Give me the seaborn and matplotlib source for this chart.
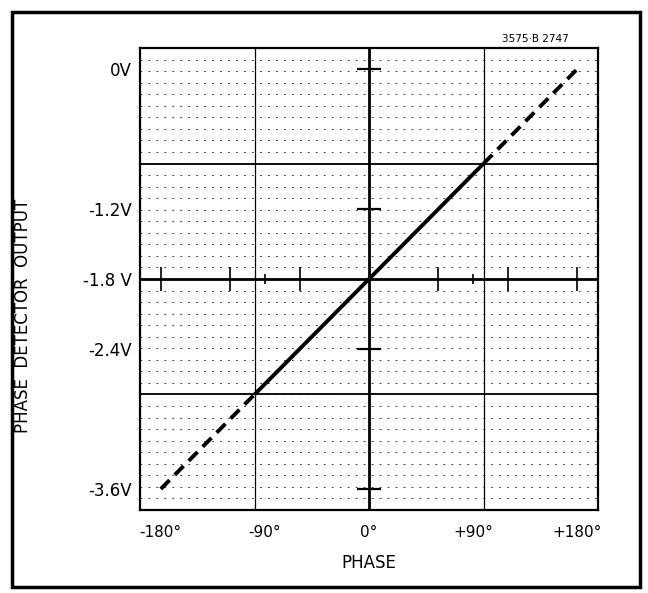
import numpy as np
import matplotlib
matplotlib.use('Agg')
import matplotlib.pyplot as plt
import seaborn as sns
from matplotlib.patches import Rectangle

# === DATOS ===
# puntos leidos de la recta (fase en grados, salida en voltios)
phase_deg = [-180, -99, 99, 180]
output_v = [-3.6, -2.79, -0.81, 0.0]
segment_style = ['dashed', 'solid', 'dashed']

x_ticks = [-180, -90, 0, 90, 180]
x_tick_labels = ['-180°', '-90°', '0°', '+90°', '+180°']
y_ticks = [0.0, -1.2, -1.8, -2.4, -3.6]
y_tick_labels = ['0V', '-1.2V', '-1.8 V', '-2.4V', '-3.6V']

# marcas sobre las lineas centrales
big_phase_marks = [-180, -120, -60, 60, 120, 180]
small_phase_marks = [-90, 90]
volt_marks = [0.0, -1.2, -2.4, -3.6]

# cuadricula del papel: 4 divisiones mayores, 10 menores cada una
x_lim = (-198, 198)
y_lim = (-3.78, 0.18)

sns.set_theme(style='white')
plt.rcParams['font.family'] = ['DejaVu Sans']
plt.rcParams['text.color'] = 'black'
plt.rcParams['axes.labelcolor'] = 'black'
plt.rcParams['xtick.color'] = 'black'
plt.rcParams['ytick.color'] = 'black'

fig = plt.figure(figsize=(6.48, 5.93), dpi=100)
ax = fig.add_axes([0.216, 0.140, 0.707, 0.779])
ax.set_xlim(x_lim)
ax.set_ylim(y_lim)

# lineas menores punteadas (horizontales)
y_minor = np.linspace(y_lim[0], y_lim[1], 41)
for yv in y_minor:
    ax.axhline(yv, color='#333333', lw=0.7, ls=(0, (1.8, 6.4)), zorder=1)

# lineas mayores
x_major = np.linspace(x_lim[0], x_lim[1], 5)[1:-1]
y_major = np.linspace(y_lim[0], y_lim[1], 5)[1:-1]
for i, xv in enumerate(x_major):
    ax.axvline(xv, color='black', lw=2.0 if i == 1 else 0.9, zorder=2)
for i, yv in enumerate(y_major):
    ax.axhline(yv, color='black', lw=2.0 if i == 1 else 1.3, zorder=2)

# marcas cortas sobre la linea de -1.8 V y sobre la de 0 grados
mid_v = y_major[1]
ax.vlines(big_phase_marks, mid_v - 0.1, mid_v + 0.1, color='black', lw=1.2, zorder=3)
ax.vlines(small_phase_marks, mid_v - 0.04, mid_v + 0.04, color='black', lw=1.2, zorder=3)
ax.hlines(volt_marks, -10, 10, color='black', lw=1.6, zorder=3)

# recta de salida del detector
for i, style in enumerate(segment_style):
    seg_x = phase_deg[i:i + 2]
    seg_y = output_v[i:i + 2]
    sns.lineplot(x=seg_x, y=seg_y, ax=ax, color='black', lw=2.8, zorder=4)
    line = ax.lines[-1]
    if style == 'dashed':
        line.set_linestyle((0, (3.2, 1.9)))
    line.set_solid_capstyle('butt')
    line.set_dash_capstyle('butt')

ax.set_xticks(x_ticks)
ax.set_xticklabels(x_tick_labels, fontsize=11)
ax.set_yticks(y_ticks)
ax.set_yticklabels(y_tick_labels, fontsize=12)
ax.tick_params(axis='both', direction='out', length=5, width=1.1, color='black', pad=1)
ax.tick_params(axis='x', pad=6)
for side in ['left', 'right', 'top', 'bottom']:
    ax.spines[side].set_color('black')
    ax.spines[side].set_linewidth(1.6)

ax.set_xlabel('PHASE', fontsize=12, labelpad=10)
ax.set_ylabel('PHASE  DETECTOR  OUTPUT', fontsize=12)
ax.yaxis.set_label_coords(-0.235, 0.42)

fig.text(0.826, 0.934, '3575·B 2747', fontsize=7.5, ha='center', va='center')

# marco exterior
fig.patches.append(Rectangle((0.019, 0.010), 0.969, 0.970, transform=fig.transFigure,
                             fill=False, edgecolor='black', lw=2.5))

fig.savefig('out.png', dpi=100)
